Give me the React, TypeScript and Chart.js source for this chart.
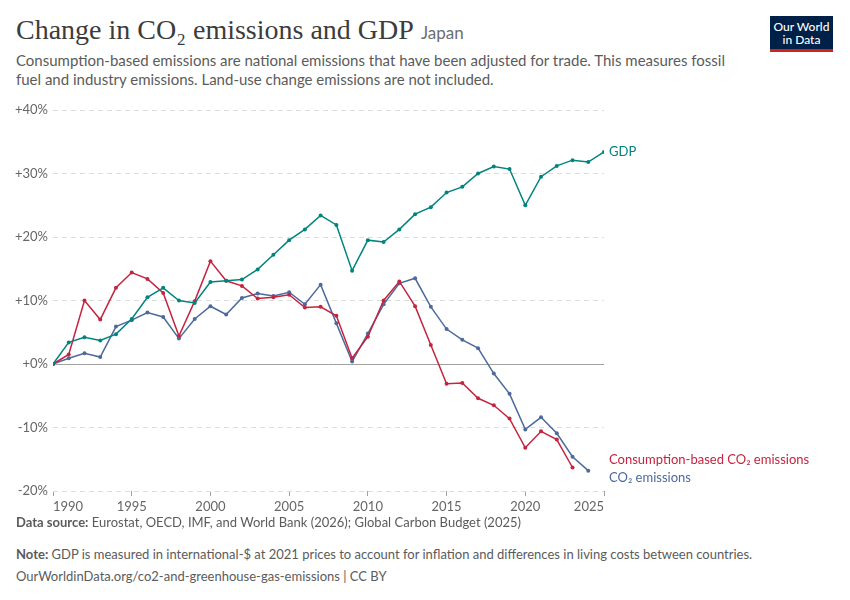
import React, { useEffect, useRef } from "react";
import { Chart, registerables } from "chart.js";
Chart.register(...registerables);

const years = [1990,1991,1992,1993,1994,1995,1996,1997,1998,1999,2000,2001,2002,2003,2004,2005,2006,2007,2008,2009,2010,2011,2012,2013,2014,2015,2016,2017,2018,2019,2020,2021,2022,2023,2024,2025];
const gdp = [0,3.4,4.2,3.7,4.7,7.1,10.5,12.0,10.0,9.6,12.9,13.1,13.3,14.9,17.2,19.5,21.2,23.4,21.9,14.7,19.5,19.2,21.2,23.6,24.7,27.0,27.9,30.0,31.1,30.7,25.0,29.5,31.2,32.1,31.8,33.4];
const consumption = [0,1.5,10.0,7.0,12.0,14.4,13.4,11.2,4.4,9.9,16.2,13.1,12.3,10.3,10.5,10.9,8.9,9.0,7.6,0.9,4.3,10.0,13.0,9.1,3.0,-3.1,-3.0,-5.4,-6.5,-8.6,-13.2,-10.6,-11.9,-16.3];
const co2 = [0,0.9,1.7,1.1,5.9,6.9,8.1,7.4,4.0,7.1,9.1,7.8,10.4,11.1,10.7,11.3,9.4,12.5,6.4,0.4,4.8,9.4,12.7,13.5,9.0,5.5,3.8,2.5,-1.5,-4.7,-10.3,-8.4,-10.9,-14.6,-16.8];
const seriesNames = ["GDP", "Consumption-based CO₂ emissions", "CO₂ emissions"];
const seriesColors = ["#00847e", "#c4243f", "#4c6a9c"];
const xTickValues = [1990, 1995, 2000, 2005, 2010, 2015, 2020, 2025];
const yTickValues = [-20, -10, 0, 10, 20, 30, 40];

const toPoints = (vals: number[]) => vals.map((v, i) => ({ x: years[i], y: v }));

const zeroLinePlugin = {
  id: "zeroLine",
  beforeDatasetsDraw(chart: any) {
    const { ctx, chartArea, scales } = chart;
    const y = Math.round(scales.y.getPixelForValue(0)) + 0.5;
    ctx.save();
    ctx.strokeStyle = "#a1a1a1";
    ctx.lineWidth = 1;
    ctx.beginPath();
    ctx.moveTo(chartArea.left, y);
    ctx.lineTo(chartArea.right, y);
    ctx.stroke();
    ctx.restore();
  },
};

const endLabelPlugin = {
  id: "endLabels",
  afterDatasetsDraw(chart: any) {
    const { ctx, chartArea } = chart;
    const items = chart.data.datasets.map((ds: any, i: number) => {
      const meta = chart.getDatasetMeta(i);
      const last = meta.data[meta.data.length - 1];
      return { name: ds.label, color: ds.borderColor, y: last.y };
    });
    items.sort((a: any, b: any) => a.y - b.y);
    const gap = 18;
    let groups = items.map((it: any) => ({ members: [it], center: it.y }));
    let changed = true;
    while (changed) {
      changed = false;
      for (let i = 0; i < groups.length - 1; i++) {
        const a = groups[i], b = groups[i + 1];
        const aBottom = a.center + ((a.members.length - 1) * gap) / 2;
        const bTop = b.center - ((b.members.length - 1) * gap) / 2;
        if (bTop - aBottom < gap) {
          const members = [...a.members, ...b.members];
          const center = members.reduce((s: number, m: any) => s + m.y, 0) / members.length;
          groups.splice(i, 2, { members, center });
          changed = true;
          break;
        }
      }
    }
    ctx.save();
    ctx.font = "13px Lato";
    ctx.textBaseline = "middle";
    ctx.textAlign = "left";
    groups.forEach((g: any) => {
      g.members.forEach((m: any, k: number) => {
        const y = g.center - ((g.members.length - 1) * gap) / 2 + k * gap;
        ctx.fillStyle = m.color;
        ctx.fillText(m.name, chartArea.right + 5, y);
      });
    });
    ctx.restore();
  },
};

function LineChart() {
  const ref = useRef<HTMLCanvasElement>(null);
  useEffect(() => {
    if (!ref.current) return;
    const chart = new Chart(ref.current, {
      type: "line",
      data: {
        datasets: [
          { label: seriesNames[0], data: toPoints(gdp), borderColor: seriesColors[0], backgroundColor: seriesColors[0] },
          { label: seriesNames[1], data: toPoints(consumption), borderColor: seriesColors[1], backgroundColor: seriesColors[1] },
          { label: seriesNames[2], data: toPoints(co2), borderColor: seriesColors[2], backgroundColor: seriesColors[2] },
        ],
      },
      options: {
        animation: false,
        responsive: false,
        maintainAspectRatio: false,
        devicePixelRatio: 1,
        layout: { padding: { top: 15, right: 246, left: 0, bottom: 0 } },
        elements: {
          line: { borderWidth: 1.5, tension: 0 },
          point: { radius: 2, borderWidth: 0, hoverRadius: 2 },
        },
        plugins: {
          legend: { display: false },
          tooltip: { enabled: false },
        },
        scales: {
          x: {
            type: "linear",
            min: 1990,
            max: 2025,
            afterBuildTicks: (scale: any) => {
              scale.ticks = xTickValues.map((v) => ({ value: v }));
            },
            afterFit: (scale: any) => {
              scale.height = 30;
            },
            ticks: {
              callback: (v: any) => String(v),
              align: "inner",
              padding: 3,
              color: "#666",
              font: { family: "Lato", size: 13 },
              maxRotation: 0,
              autoSkip: false,
            },
            grid: { drawOnChartArea: false, drawTicks: true, tickLength: 5, color: "#a1a1a1" },
            border: { display: false },
          },
          y: {
            min: -20,
            max: 40,
            afterBuildTicks: (scale: any) => {
              scale.ticks = yTickValues.map((v) => ({ value: v }));
            },
            afterFit: (scale: any) => {
              scale.width = 53;
            },
            ticks: {
              callback: (v: any) => (v >= 0 ? "+" : "") + v + "%",
              padding: 5,
              color: "#666",
              font: { family: "Lato", size: 13 },
            },
            grid: { drawTicks: false, color: "#dddddd" },
            border: { display: false, dash: [5, 4] },
          },
        },
      },
      plugins: [zeroLinePlugin, endLabelPlugin],
    } as any);
    return () => chart.destroy();
  }, []);
  return <canvas ref={ref} width={850} height={426} style={{ position: "absolute", left: 0, top: 95, width: 850, height: 426 }} />;
}

export default function App() {
  return (
    <div style={{ position: "absolute", left: 0, top: 0, width: 850, height: 600, background: "#fff", fontFamily: "Lato, sans-serif", overflow: "hidden" }}>
      <div style={{ position: "absolute", left: 16, top: 14, whiteSpace: "nowrap", lineHeight: "32px" }}>
        <span style={{ fontFamily: "'Liberation Serif', serif", fontSize: 28, color: "#3c3c3c" }}>
          Change in CO₂ emissions and GDP
        </span>
        <span style={{ fontFamily: "Lato, sans-serif", fontSize: 17, color: "#6e6e6e", marginLeft: 7 }}>Japan</span>
      </div>
      <div style={{ position: "absolute", left: 16, top: 51, width: 730, fontSize: 15, lineHeight: "19px", color: "#5b5b5b" }}>
        Consumption-based emissions are national emissions that have been adjusted for trade. This measures fossil fuel and industry emissions. Land-use change emissions are not included.
      </div>
      <div style={{ position: "absolute", left: 770, top: 16, width: 63, height: 36, background: "#002147" }}>
        <div style={{ position: "absolute", left: 0, right: 0, bottom: 0, height: 3, background: "#ce261e" }} />
        <div style={{ position: "absolute", left: 0, right: 0, top: 4, textAlign: "center", color: "#fff", fontSize: 12, lineHeight: "13px", fontWeight: 500 }}>
          Our World<br />in Data
        </div>
      </div>
      <LineChart />
      <div style={{ position: "absolute", left: 16, top: 514, fontSize: 13, lineHeight: "17px", color: "#5b5b5b", whiteSpace: "nowrap" }}>
        <b>Data source:</b> Eurostat, OECD, IMF, and World Bank (2026); Global Carbon Budget (2025)
      </div>
      <div style={{ position: "absolute", left: 16, top: 546, fontSize: 13, lineHeight: "17px", color: "#5b5b5b", whiteSpace: "nowrap" }}>
        <b>Note:</b> GDP is measured in international-$ at 2021 prices to account for inflation and differences in living costs between countries.
      </div>
      <div style={{ position: "absolute", left: 16, top: 568, fontSize: 13, lineHeight: "17px", color: "#5b5b5b", whiteSpace: "nowrap" }}>
        OurWorldinData.org/co2-and-greenhouse-gas-emissions | CC BY
      </div>
    </div>
  );
}
